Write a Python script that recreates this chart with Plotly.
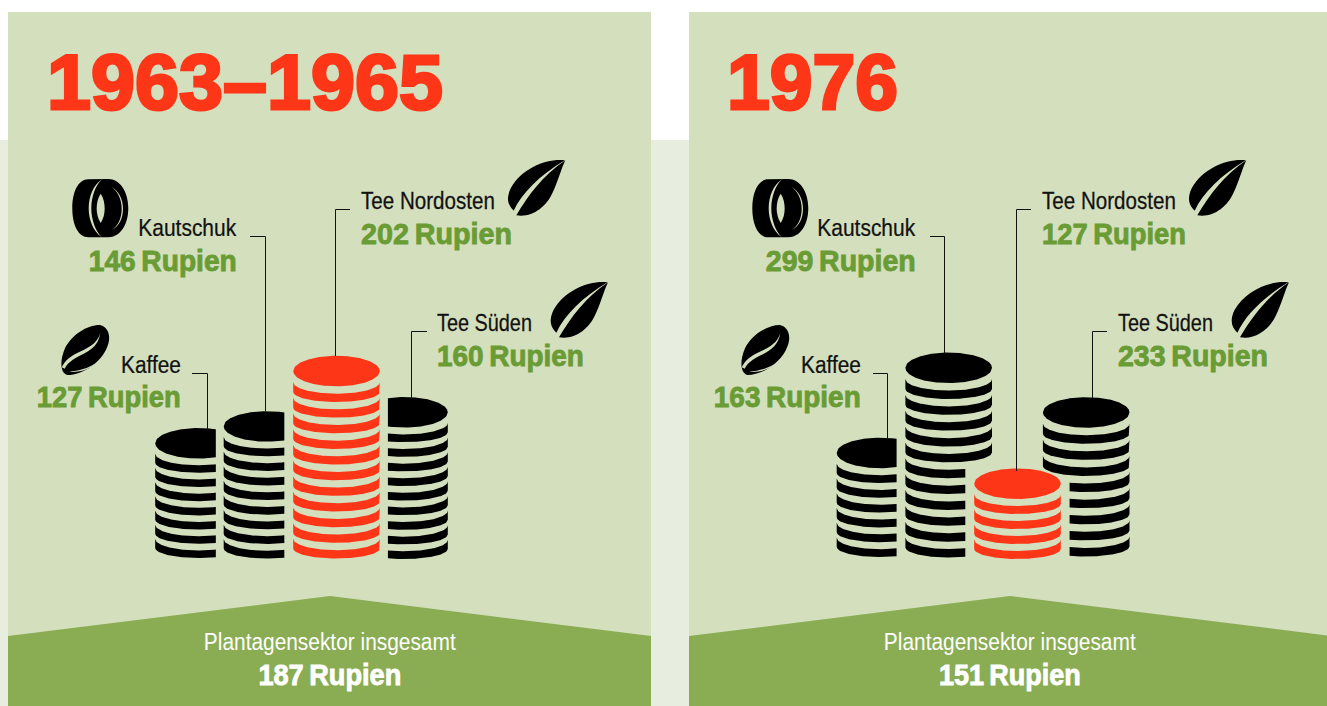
import numpy as np
import plotly.graph_objects as go

# ---------- data ----------
categories = ["Kaffee", "Kautschuk", "Tee Nordosten", "Tee Süden"]
periods = ["1963–1965", "1976"]
rupees_1963 = [127, 146, 202, 160]
rupees_1976 = [163, 299, 127, 233]
coins_1963 = [8, 9, 12, 10]
coins_1976 = [7, 12, 5, 9]
total_rupees = [187, 151]
total_label = "Plantagensektor insgesamt"
unit = "Rupien"

# ---------- colours ----------
PANEL = "#D4DFBE"
PALE = "#E8EEDF"
BAND = "#8AAD53"
GREEN = "#6A9C35"
RED = "#FE3618"
BLACK = "#000000"
SANS = "Liberation Sans"

# ---------- layout constants (pixels of the 1327x706 page) ----------
RX, RY = 43.3, 15.3
BAND_LOW, BAND_HIGH, GAP_SHARE = 10.0, 11.5, 0.47
STACKS = [
    [dict(xc=198.5, bottom=558, pitch=14.2, r=216, first=0),
     dict(xc=267.0, bottom=558.5, pitch=14.6, r=285, first=0),
     dict(xc=336.5, bottom=558.5, pitch=15.65),
     dict(xc=404.5, bottom=559, pitch=14.6, l=387.3, first=0)],
    [dict(xc=880.0, bottom=557, pitch=14.8, r=897.3, first=0),
     dict(xc=948.7, bottom=557.5, pitch=15.85, r=966, first=6),
     dict(xc=1017.5, bottom=559, pitch=15.0),
     dict(xc=1086.2, bottom=556.5, pitch=16.1, l=1069, first=4)],
]
LEADERS = [
    [(192, 373.5, 207.5, 430), (250, 236.5, 265.5, 411), (350, 209.5, 335.5, 356), (427, 331.5, 411.5, 399)],
    [(873, 373.5, 887.5, 439), (930, 236.5, 944.5, 353), (1031, 209.5, 1016.5, 471), (1107, 331.5, 1092.5, 398)],
]
LABELS = [
    [("right", 183, 364, 396.5), ("right", 239, 227, 260), ("left", 359, 200, 233), ("left", 435, 322, 355)],
    [("right", 863, 364, 396.5), ("right", 918, 227, 260), ("left", 1040, 200, 233), ("left", 1116, 322, 355)],
]
NAME_W = [[60, 98, 134, 95], [60, 98, 134, 95]]
VALUE_W = [[144, 148, 151, 147], [147, 150, 144, 150]]
TITLE_X = [45, 725]
TITLE_W = [396, 171]
CENTER = [330, 1010]
TOTAL_W = [143, 142]


def coin_polys(spec, n):
    """Outline of one stack as x/y lists: top ellipse plus a band per lower coin."""
    xs, ys = [], []
    pitch = spec["pitch"]
    top_y = spec["bottom"] - RY - (n - 1) * pitch
    for i in range(n):
        clip = "first" in spec and i >= spec["first"]
        lo = spec.get("l", -1e9) if clip else -1e9
        hi = spec.get("r", 1e9) if clip else 1e9
        t = np.linspace(spec["xc"] - RX, spec["xc"] + RX, 121)
        t = t[(t >= lo) & (t <= hi)]
        t = np.unique(np.r_[t, max(lo, t[0]), min(hi, t[-1])])
        s = np.sqrt(np.clip(1 - ((t - spec["xc"]) / RX) ** 2, 0, 1))
        yc = top_y + i * pitch
        if i == 0:
            upper, lower = yc - RY * s, yc + RY * s
        else:
            low_mid = yc + RY
            lower = low_mid - BAND_LOW * (1 - s)
            upper = low_mid - pitch * (1 - GAP_SHARE) - BAND_HIGH * (1 - s)
        xs += list(t) + list(t[::-1]) + [None]
        ys += list(upper) + list(lower[::-1]) + [None]
    return xs, ys


fig = go.Figure()

for p, coins in enumerate([coins_1963, coins_1976]):
    for c, n in enumerate(coins):
        x, y = coin_polys(STACKS[p][c], n)
        fig.add_trace(go.Scatter(
            x=x, y=y, mode="lines", fill="toself", line=dict(width=0),
            fillcolor=RED if c == 2 else BLACK, hoverinfo="skip", showlegend=False))

for row in LEADERS:
    for x0, y0, x1, y1 in row:
        fig.add_trace(go.Scatter(
            x=[x0, x1, x1], y=[y0, y0, y1], mode="lines",
            line=dict(color="#111111", width=1), hoverinfo="skip", showlegend=False))

shapes = [
    dict(type="rect", x0=0, x1=1327, y0=140, y1=706, fillcolor=PALE, line_width=0, layer="below"),
    dict(type="rect", x0=8, x1=651, y0=12, y1=706, fillcolor=PANEL, line_width=0, layer="below"),
    dict(type="rect", x0=689, x1=1327, y0=12, y1=706, fillcolor=PANEL, line_width=0, layer="below"),
    dict(type="path", path="M8,636 L330,596 L651,636 L651,706 L8,706 Z", fillcolor=BAND, line_width=0, layer="below"),
    dict(type="path", path="M689,636 L1010,596 L1327,635.4 L1327,706 L689,706 Z", fillcolor=BAND, line_width=0, layer="below"),
]


def icon(cmds, ox, oy, dx, dy, color):
    """cmds: path written in 3x zoom coordinates of origin (ox, oy); translated by dx, dy."""
    out = []
    for tok in cmds.split():
        if tok.isalpha():
            out.append(tok)
            continue
        a, b = tok.split(",")
        out.append(f"{float(a) / 3 + ox + dx:.1f},{float(b) / 3 + oy + dy:.1f}")
    return dict(type="path", path=" ".join(out), fillcolor=color, line_width=0, layer="above")


LEAF = [
    "M 674,31 C 620,25 545,55 512,115 C 498,145 503,165 521,182 C 545,130 600,75 674,31 Z",
    "M 676,31 C 610,75 565,135 529,196 C 575,204 618,172 637,130 C 654,95 662,60 676,31 Z",
]
TYRE = [
    ("M 175,88 L 235,87 C 270,87 295,125 295,175 C 295,225 270,262 235,262 L 175,262 "
     "C 145,262 127,225 127,175 C 127,125 145,88 175,88 Z", BLACK),
    ("M 216,88 C 190,105 176,140 176,175 C 176,210 190,245 216,262 "
     "C 197,245 184,210 184,175 C 184,140 197,105 216,88 Z", PANEL),
    ("M 212,131 C 196,155 196,195 212,219 C 228,195 228,155 212,131 Z", PANEL),
    ("M 243,110 C 268,122 279,150 279,175 C 279,205 268,230 243,241 "
     "C 264,230 275,205 275,175 C 275,150 264,122 243,110 Z", PANEL),
]
BEAN = [
    ("M 210,525 C 235,530 245,560 232,590 C 215,635 160,675 112,675 "
     "C 92,670 88,635 105,595 C 125,555 170,525 210,525 Z", BLACK),
    ("M 211,550 C 200,585 170,595 140,610 C 120,620 105,632 95,652 L 104,656 "
     "C 112,640 128,628 152,616 C 185,600 205,585 211,550 Z", PANEL),
    ("M 118,665 C 145,668 178,660 197,640 C 175,655 145,663 118,665 Z", PANEL),
]
for dx, dy in [(0, 0), (42.7, 122), (681, 0), (723.7, 122)]:
    for part in LEAF:
        shapes.append(icon(part, 340, 150, dx, dy, BLACK))
for dx in (0, 680):
    for part, col in TYRE:
        shapes.append(icon(part, 30, 150, dx, 0, col))
    for part, col in BEAN:
        shapes.append(icon(part, 30, 150, dx, 0, col))

ann = []


def text(x, y, s, size, color, anchor, width, stroke=0.0, bold=False):
    # name carries the wanted ink width and stroke, applied once the page is drawn
    ann.append(dict(x=x, y=y, xref="x", yref="y", text=s, showarrow=False, xanchor=anchor,
                    yanchor="middle", align=anchor, name=f"{width}|{stroke}",
                    font=dict(family=SANS, size=size, color=color, weight="bold" if bold else "normal")))


for p, (period, vals) in enumerate(zip(periods, [rupees_1963, rupees_1976])):
    text(TITLE_X[p], 82, period, 78, RED, "left", TITLE_W[p], 3.0, True)
    for c, name in enumerate(categories):
        anchor, x, y_name, y_val = LABELS[p][c]
        text(x, y_name, name, 24, "#111111", anchor, NAME_W[p][c], 0.25)
        text(x, y_val, f"{vals[c]}\u2009{unit}", 30, GREEN, anchor, VALUE_W[p][c], 0.9, True)
    text(CENTER[p], 641, total_label, 24, "#FFFFFF", "center", 252)
    text(CENTER[p], 674, f"{total_rupees[p]}\u2009{unit}", 30, "#FFFFFF", "center", TOTAL_W[p], 0.9, True)

fig.update_layout(
    width=1327, height=706, margin=dict(l=0, r=0, t=0, b=0, pad=0),
    paper_bgcolor="#FFFFFF", plot_bgcolor="#FFFFFF", showlegend=False,
    shapes=shapes, annotations=ann, hovermode=False,
    xaxis=dict(range=[0, 1327], visible=False, fixedrange=True),
    yaxis=dict(range=[706, 0], visible=False, fixedrange=True),
)

POST = """
document.body.style.margin = '0';
var gd = document.getElementById('{plot_id}');
gd.querySelectorAll('.annotation').forEach(function (g) {
  var a = gd.layout.annotations[+g.getAttribute('data-index')];
  var t = g.querySelector('text');
  var spec = a.name.split('|');
  var k = parseFloat(spec[0]) / t.getComputedTextLength();
  var b = t.getBBox();
  var ax = a.xanchor === 'left' ? b.x : a.xanchor === 'right' ? b.x + b.width : b.x + b.width / 2;
  t.setAttribute('transform', 'translate(' + ax * (1 - k) + ',0) scale(' + k + ',1)');
  var sw = parseFloat(spec[1]);
  if (sw > 0) { t.style.stroke = a.font.color; t.style.strokeWidth = sw + 'px'; }
});
"""
fig.write_html("out.html", config=dict(displayModeBar=False), post_script=POST)
